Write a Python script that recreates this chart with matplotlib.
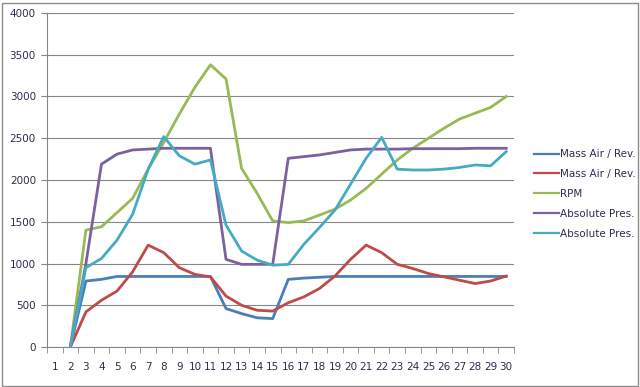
import numpy as np
import matplotlib
matplotlib.use("Agg")
import matplotlib.pyplot as plt
from matplotlib.patches import Rectangle

# categories 1..30, data starts at 2
cats = list(range(1, 31))
x_data = list(range(2, 31))

mass_air_1 = [0, 790, 810, 845, 845, 845, 845, 845, 845, 845, 460, 400, 350, 340,
              810, 825, 835, 845, 845, 845, 845, 845, 845, 845, 845, 845, 845, 845, 845]
mass_air_2 = [0, 420, 560, 670, 900, 1220, 1130, 950, 870, 840, 610, 500, 440, 430,
              530, 600, 700, 850, 1050, 1220, 1130, 990, 940, 880, 840, 800, 760, 790, 850]
rpm = [0, 1400, 1440, 1610, 1780, 2130, 2450, 2790, 3110, 3380, 3210, 2140, 1840, 1510,
       1490, 1510, 1580, 1650, 1760, 1900, 2070, 2240, 2380, 2500, 2620, 2730, 2800, 2870, 3000]
abs_pres_1 = [0, 1000, 2190, 2310, 2360, 2370, 2380, 2380, 2380, 2380, 1050, 990, 990, 990,
              2260, 2280, 2300, 2330, 2360, 2370, 2370, 2370, 2375, 2375, 2375, 2375, 2380, 2380, 2380]
abs_pres_2 = [0, 950, 1060, 1280, 1590, 2130, 2520, 2290, 2190, 2240, 1460, 1150, 1040, 980,
              990, 1230, 1430, 1640, 1950, 2260, 2510, 2130, 2120, 2120, 2130, 2150, 2180, 2170, 2340]

labels = ["Mass Air / Rev.", "Mass Air / Rev.", "RPM", "Absolute Pres.", "Absolute Pres."]
colors = ["#4A7EBB", "#BE4B48", "#98B954", "#7D60A0", "#46AAC5"]
series = [mass_air_1, mass_air_2, rpm, abs_pres_1, abs_pres_2]

fig = plt.figure(figsize=(6.4, 3.87), dpi=100)
ax = fig.add_axes([47 / 640, 1 - 347 / 387, (514 - 47) / 640, (347 - 13) / 387])

# outer chart border
fig.patches.append(Rectangle((1.5 / 640, 1.5 / 387), 636 / 640, 383 / 387,
                             transform=fig.transFigure, fill=False,
                             edgecolor="#8c8c8c", linewidth=1))

for s, c, lab in zip(series, colors, labels):
    ax.plot(x_data, s, color=c, linewidth=2.0, label=lab, solid_joinstyle="round")

ax.set_xlim(0.5, 30.5)
ax.set_ylim(0, 4000)
ax.set_yticks(np.arange(0, 4001, 500))
ax.yaxis.grid(True, color="#868686", linewidth=0.8)
ax.set_axisbelow(True)

ax.set_xticks(cats)
ax.set_xticks(np.arange(0.5, 31, 1), minor=True)
ax.tick_params(axis="x", which="major", length=0, pad=11)
ax.tick_params(axis="x", which="minor", length=4, color="#868686", direction="out")
ax.tick_params(axis="y", length=4, color="#868686", pad=4)
for lbl in ax.get_xticklabels() + ax.get_yticklabels():
    lbl.set_fontsize(7.5)
    lbl.set_color("#2d2d4d")

for side in ["top", "right"]:
    ax.spines[side].set_visible(False)
for side in ["left", "bottom"]:
    ax.spines[side].set_color("#868686")

leg = ax.legend(loc="upper left", bbox_to_anchor=(530 / 640, 1 - 145 / 387),
                bbox_transform=fig.transFigure, frameon=False, fontsize=7.5,
                handlelength=2.4, handletextpad=0.1, labelspacing=0.95,
                borderaxespad=0)
for t in leg.get_texts():
    t.set_color("#2d2d4d")
for h in leg.get_lines():
    h.set_linewidth(1.6)

fig.savefig("out.png", dpi=100)
